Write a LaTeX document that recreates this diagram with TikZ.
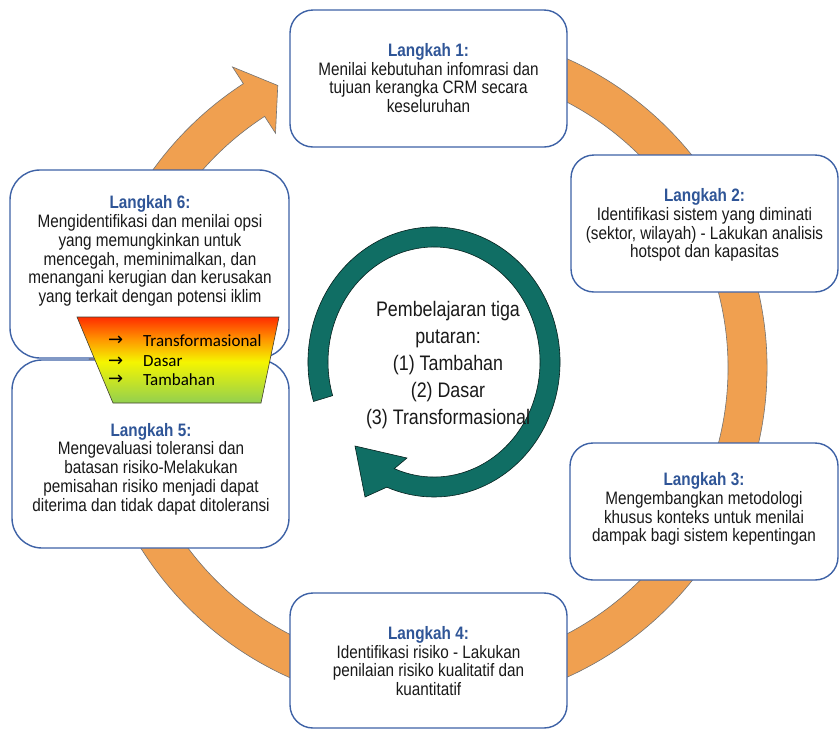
\documentclass[tikz,border=0pt]{standalone}
\usepackage{fontspec}
\setmainfont[FakeStretch=0.85]{Liberation Sans}
\newfontfamily\calfont{Carlito}
\newfontfamily\symfont{DejaVu Sans}
\definecolor{boxblue}{RGB}{62,98,166}
\definecolor{titleblue}{RGB}{47,85,151}
\definecolor{ringorange}{RGB}{240,160,80}
\definecolor{ringteal}{RGB}{16,110,100}
\definecolor{heatred}{RGB}{255,45,0}
\definecolor{heatorange}{RGB}{255,150,0}
\definecolor{heatyellow}{RGB}{245,245,0}
\definecolor{heatgreen}{RGB}{146,208,80}
% TikZ maps the band 25bp..75bp of a declared shading onto the path
\pgfdeclareverticalshading{heat}{100bp}{color(0bp)=(heatgreen); color(25bp)=(heatgreen); color(49bp)=(heatyellow); color(62bp)=(heatorange); color(75bp)=(heatred); color(100bp)=(heatred)}
\begin{document}
\begin{tikzpicture}[x=1pt,y=-1pt,
  stepbox/.style={draw=boxblue, line width=1.4pt, fill=white, inner sep=0pt},
  steptext/.style={align=center, text=black!90, font=\fontsize{18}{18.7}\selectfont, inner sep=0pt},
  heatlabel/.style={anchor=west, inner sep=0pt, font=\calfont\fontsize{17}{18}\selectfont},
  heatarrow/.style={anchor=west, inner sep=0pt, font=\symfont\fontsize{18}{18}\selectfont}]
\useasboundingbox (0,0) rectangle (840,729);

% outer orange cycle arrow
\begin{scope}[shift={(428,368)}]
  \draw[fill=ringorange, draw=black!55, line width=0.6pt]
    (-80:339) arc[start angle=-80, end angle=237, radius=339]
    -- (237:359) -- (242:320) -- (237:280) -- (237:300)
    arc[start angle=237, end angle=-80, radius=300] -- cycle;
\end{scope}

% step boxes
\node[stepbox, minimum width=277pt, minimum height=137pt, rounded corners=23pt] (s1) at (428.5,78.5) {};
\node[stepbox, minimum width=267pt, minimum height=137pt, rounded corners=23pt] (s2) at (704.5,223.5) {};
\node[stepbox, minimum width=268pt, minimum height=137pt, rounded corners=23pt] (s3) at (704,511.5) {};
\node[stepbox, minimum width=277pt, minimum height=135pt, rounded corners=23pt] (s4) at (428.5,660.5) {};
\node[stepbox, minimum width=279pt, minimum height=188pt, rounded corners=30pt] (s6) at (149.5,264) {};
\node[stepbox, minimum width=277pt, minimum height=188pt, rounded corners=30pt] (s5) at (150.5,454) {};

\node[steptext] (t1) at (428.5,78) {{\color{titleblue}\bfseries Langkah 1:}\\Menilai kebutuhan infomrasi dan\\tujuan kerangka CRM secara\\keseluruhan};
\node[steptext] (t2) at (704.5,225) {{\color{titleblue}\bfseries Langkah 2:}\\Identifikasi sistem yang diminati\\(sektor, wilayah) - Lakukan analisis\\hotspot dan kapasitas};
\node[steptext] (t3) at (704,509) {{\color{titleblue}\bfseries Langkah 3:}\\Mengembangkan metodologi\\khusus konteks untuk menilai\\dampak bagi sistem kepentingan};
\node[steptext] (t4) at (428.5,661) {{\color{titleblue}\bfseries Langkah 4:}\\Identifikasi risiko - Lakukan\\penilaian risiko kualitatif dan\\kuantitatif};
\node[steptext] (t5) at (151,469) {{\color{titleblue}\bfseries Langkah 5:}\\Mengevaluasi toleransi dan\\batasan risiko-Melakukan\\pemisahan risiko menjadi dapat\\diterima dan tidak dapat ditoleransi};
\node[steptext] (t6) at (150,251) {{\color{titleblue}\bfseries Langkah 6:}\\Mengidentifikasi dan menilai opsi\\yang memungkinkan untuk\\mencegah, meminimalkan, dan\\menangani kerugian dan kerusakan\\yang terkait dengan potensi iklim};

% learning-loop funnel
\draw[shading=heat, draw=black!70!olive, line width=0.6pt]
  (77,317) -- (279,317) -- (261,403) -- (113,403) -- cycle;
\node[heatarrow] (a1) at (108,340.5) {→};
\node[heatarrow] (a2) at (108,361.5) {→};
\node[heatarrow] (a3) at (108,380) {→};
\node[heatlabel] (h1) at (143,340.5) {Transformasional};
\node[heatlabel] (h2) at (143,361.5) {Dasar};
\node[heatlabel] (h3) at (143,380) {Tambahan};

% inner teal loop arrow
\begin{scope}[shift={(434,362)}]
  \draw[fill=ringteal, draw=black!70!ringteal, line width=0.6pt]
    (163:126 and 135) arc[start angle=163, end angle=472, x radius=126, y radius=135]
    -- (-69,135) -- (-79,84) -- (-27,96) -- (112:106 and 115)
    arc[start angle=472, end angle=163, x radius=106, y radius=115] -- cycle;
\end{scope}
\node[align=center, inner sep=0pt, text=black!90, font=\fontsize{21}{27}\selectfont] (loop) at (448,365)
  {Pembelajaran tiga\\putaran:\\(1) Tambahan\\(2) Dasar\\(3) Transformasional};
\end{tikzpicture}
\end{document}
